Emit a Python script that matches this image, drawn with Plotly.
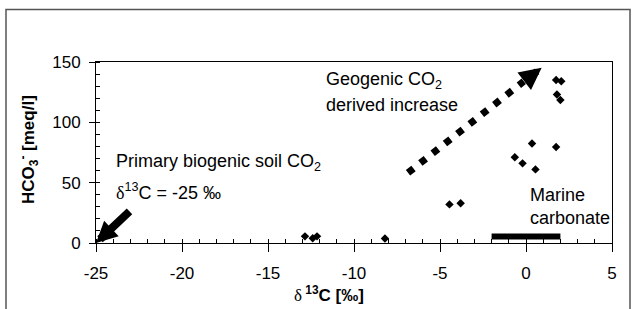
import plotly.graph_objects as go

# ---- data ----
d13c = [-12.85, -12.4, -12.15, -8.2, -4.45, -3.8, -0.65, -0.2, 0.35, 0.55, 1.75, 1.75, 2.05, 1.8, 2.0]
hco3 = [5.5, 4.0, 5.5, 3.8, 32.0, 33.0, 71.0, 66.0, 82.5, 61.0, 79.5, 135.0, 134.0, 123.0, 118.5]

x_range = [-25, 5]
y_range = [0, 150]
x_ticks = [-25, -20, -15, -10, -5, 0, 5]
x_ticklabels = ["-25", "-20", "-15", "-10", "-5", "0", "5"]
y_ticks = [0, 50, 100, 150]
y_ticklabels = ["0", "50", "100", "150"]

marine_x = [-2, 2]          # marine carbonate d13C range
marine_y = 5.3
geo_tail = (-6.86, 58.2)    # geogenic increase arrow
geo_base = (-0.13, 134.0)
geo_tip = (0.91, 145.3)
bio_tip = (-25, 0)          # primary biogenic soil CO2 arrow

FONT = "Liberation Sans, Arial, sans-serif"

fig = go.Figure()
fig.add_trace(go.Scatter(
    x=d13c, y=hco3, mode="markers",
    marker=dict(symbol="diamond", size=6.5, color="black"),
    cliponaxis=False, showlegend=False, hoverinfo="skip"))
# helper trace so the overlay axes (inner half of the crossing major ticks) are drawn
fig.add_trace(go.Scatter(x=[None], y=[None], xaxis="x2", yaxis="y2",
                         mode="markers", showlegend=False, hoverinfo="skip"))

# marine carbonate bar
fig.add_shape(type="line", xref="x", yref="y",
              x0=marine_x[0], x1=marine_x[1], y0=marine_y, y1=marine_y,
              line=dict(color="black", width=6))
# geogenic dotted arrow shaft
fig.add_shape(type="line", xref="x", yref="y",
              x0=geo_tail[0], y0=geo_tail[1], x1=geo_base[0], y1=geo_base[1],
              line=dict(color="black", width=7, dash="7px,8.7px"))

# outer frame
fig.add_shape(type="rect", xref="paper", yref="paper",
              x0=(6 - 96) / 516, x1=(630 - 96) / 516,
              y0=-0.6, y1=(243 - 9.5) / 181,
              line=dict(color="#555555", width=1.5))

ann = []
# arrow heads
ann.append(dict(x=geo_tip[0], y=geo_tip[1], xref="x", yref="y", text="",
                showarrow=True, ax=-18, ay=14, arrowhead=2, arrowwidth=7,
                arrowsize=0.63, arrowcolor="black"))
ann.append(dict(x=bio_tip[0], y=bio_tip[1], xref="x", yref="y", text="",
                showarrow=True, ax=35, ay=-33, arrowhead=2, arrowwidth=8,
                arrowsize=0.53, arrowcolor="black"))

tf = dict(family=FONT, size=18, color="black")


def txt(x, y, s, **kw):
    d = dict(x=x, y=y, xref="x", yref="y", text=s, showarrow=False,
             xanchor="left", yanchor="middle", font=tf)
    d.update(kw)
    ann.append(d)


txt(-23.95, 66.5, "Primary biogenic soil CO<sub>2</sub>")
txt(-23.95, 42.5, "<span style=\"font-family:Liberation Serif\">δ</span><sup>13</sup>C = -25 ‰")
txt(-11.74, 134.5, "Geogenic CO<sub>2</sub>")
txt(-11.74, 114.0, "derived increase")
txt(0.10, 39.5, "Marine")
txt(0.10, 21.0, "carbonate")

# axis titles
ann.append(dict(x=(329 - 96) / 516, y=(243 - 294) / 181, xref="paper", yref="paper",
                text="<span style=\"font-family:Liberation Serif;font-weight:normal\">δ</span><b><sup> 13</sup>C [‰]</b>",
                showarrow=False, xanchor="center", yanchor="middle",
                font=dict(family=FONT, size=17, color="black")))
ann.append(dict(x=(28 - 96) / 516, y=(243 - 150) / 181, xref="paper", yref="paper",
                text="<b>HCO<sub>3</sub><sup>-</sup> [meq/l]</b>", textangle=-90,
                showarrow=False, xanchor="center", yanchor="middle",
                font=dict(family=FONT, size=17, color="black")))

tickfont = dict(family=FONT, size=17, color="black")
fig.update_layout(
    width=635, height=309,
    margin=dict(l=96, r=23, t=62, b=66),
    paper_bgcolor="white", plot_bgcolor="white",
    annotations=ann,
    font=dict(family=FONT, size=17, color="black"),
    xaxis=dict(range=x_range, tickvals=x_ticks, ticktext=x_ticklabels,
               ticks="outside", ticklen=8,
               tickcolor="black", showline=True, linecolor="black", linewidth=1,
               mirror=True, showgrid=False, zeroline=False, ticklabelstandoff=7,
               tickfont=tickfont,
               minor=dict(ticks="inside", ticklen=4, dtick=1, tickcolor="black", showgrid=False)),
    yaxis=dict(range=y_range, tickvals=y_ticks, ticktext=y_ticklabels,
               ticks="outside", ticklen=6,
               tickcolor="black", showline=True, linecolor="black", linewidth=1,
               mirror=True, showgrid=False, zeroline=False, ticklabelstandoff=5,
               tickfont=tickfont,
               minor=dict(ticks="inside", ticklen=4, dtick=10, tickcolor="black", showgrid=False)),
    xaxis2=dict(overlaying="x", anchor="y2", side="bottom", range=x_range,
                tickvals=x_ticks, ticks="inside", ticklen=4, tickcolor="black",
                showticklabels=False, showline=False, showgrid=False, zeroline=False),
    yaxis2=dict(overlaying="y", anchor="x2", side="left", range=y_range,
                tickvals=y_ticks, ticks="inside", ticklen=4, tickcolor="black",
                showticklabels=False, showline=False, showgrid=False, zeroline=False),
)

fig.write_html("out.html", config={"displayModeBar": False},
               post_script="document.body.style.margin='0';document.body.style.overflow='hidden';")
